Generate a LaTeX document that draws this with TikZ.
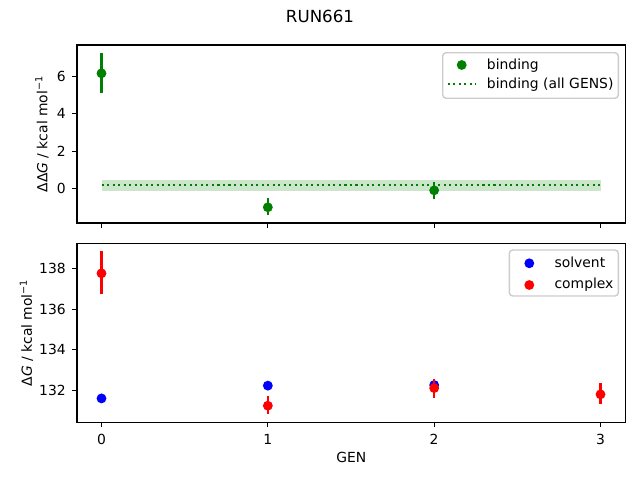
\documentclass[tikz,border=0pt]{standalone}
\usepackage{fontspec}
\setmainfont{DejaVu Sans}
\definecolor{mgreen}{RGB}{0,128,0}
\definecolor{mblue}{RGB}{0,0,255}
\definecolor{mred}{RGB}{255,0,0}
\definecolor{bandg}{RGB}{204,230,204}
\definecolor{legedge}{RGB}{204,204,204}
\begin{document}
\begin{tikzpicture}[x=0.72bp,y=-0.72bp,
  font=\fontsize{10bp}{12bp}\selectfont,
  axframe/.style={line width=0.8bp, black},
  tickmark/.style={line width=0.8bp, black},
  ebar/.style={line width=1.5bp},
  dotline/.style={line width=1.5bp, mgreen, dash pattern=on 1.5bp off 2.475bp},
  legbox/.style={draw=legedge, fill=white, line width=1bp, rounded corners=2.5bp},
  lbl/.style={inner sep=0pt},
  mkr/.style={radius=3.55bp}]
\useasboundingbox (0,0) rectangle (640,480);

% ---------------- top axes data ----------------
\begin{scope}[shift={(101.5,188.3)}, x=119.76bp, y=13.392bp]
  \fill[bandg] (0,-0.12) rectangle (3,0.42);
  \draw[dotline] (0,0.16) -- (3,0.16);
  \draw[ebar, mgreen] (0,5.15) -- (0,7.25);
  \fill[mgreen] (0,6.18) circle[mkr];
  \draw[ebar, mgreen] (1,-1.41) -- (1,-0.53);
  \fill[mgreen] (1,-1.02) circle[mkr];
  \draw[ebar, mgreen] (2,-0.59) -- (2,0.36);
  \fill[mgreen] (2,-0.11) circle[mkr];
\end{scope}

% top frame and ticks
\draw[axframe] (77,45) rectangle (625.7,223);
\foreach \i in {0,1,2,3} {
  \draw[tickmark] ({101.5+166.33*\i},223) -- ++(0,-3.5bp);
}
\foreach \v in {0,2,4,6} {
  \draw[tickmark] (77,{188.3-18.6*\v}) -- ++(-3.5bp,0);
  \node[lbl, anchor=east] (ty\v) at (66,{188.3-18.6*\v}) {\v};
}
\node[lbl, rotate=90] (ylabA) at (42,134) {ΔΔ\textit{G} / kcal mol\textsuperscript{−1}};

% top legend
\draw[legbox] (442.7,52.7) rectangle (618.3,98.3);
\fill[mgreen] (461.7,65) circle[mkr];
\node[lbl, anchor=base west] (legA1) at (486.7,69.2) {binding};
\draw[dotline] (447.7,84) -- (475.7,84);
\node[lbl, anchor=base west] (legA2) at (486.7,88.6) {binding (all GENS)};

% ---------------- bottom axes data ----------------
\begin{scope}[shift={(101.5,390.3)}, x=119.76bp, y=14.594bp]
  \fill[mblue] (0,-0.40) circle[mkr];
  \fill[mblue] (1,0.23) circle[mkr];
  \fill[mblue] (2,0.26) circle[mkr];
  \draw[ebar, mred] (0,4.77) -- (0,6.89);
  \fill[mred] (0,5.77) circle[mkr];
  \draw[ebar, mred] (1,-1.16) -- (1,-0.28);
  \fill[mred] (1,-0.76) circle[mkr];
  \draw[ebar, mred] (2,-0.36) -- (2,0.56);
  \fill[mred] (2,0.11) circle[mkr];
  \draw[ebar, mred] (3,-0.66) -- (3,0.36);
  \fill[mred] (3,-0.20) circle[mkr];
\end{scope}

% bottom frame and ticks
\draw[axframe] (77,243.3) rectangle (625.7,422.3);
\foreach \i in {0,1,2,3} {
  \draw[tickmark] ({101.5+166.33*\i},422.3) -- ++(0,-3.5bp);
  \node[lbl, anchor=north] (tx\i) at ({101.5+166.33*\i},434.2) {\i};
}
\foreach \v in {132,134,136,138} {
  \draw[tickmark] (77,{390.3-20.27*(\v-132)}) -- ++(-3.5bp,0);
  \node[lbl, anchor=east] (tb\v) at (66,{390.3-20.27*(\v-132)}) {\v};
}
\node[lbl, rotate=90] (ylabB) at (26.5,332.8) {Δ\textit{G} / kcal mol\textsuperscript{−1}};
\node[lbl] (xlab) at (351.3,457) {GEN};

% bottom legend
\draw[legbox] (509.3,250) rectangle (618.3,296);
\fill[mblue] (529.3,263.3) circle[mkr];
\node[lbl, anchor=base west] (legB1) at (554.3,267.4) {solvent};
\fill[mred] (529.3,285) circle[mkr];
\node[lbl, anchor=base west] (legB2) at (554.3,288.6) {complex};

% title
\node[lbl, font=\fontsize{12bp}{14bp}\selectfont] (title) at (320,16.9) {RUN661};
\end{tikzpicture}
\end{document}
